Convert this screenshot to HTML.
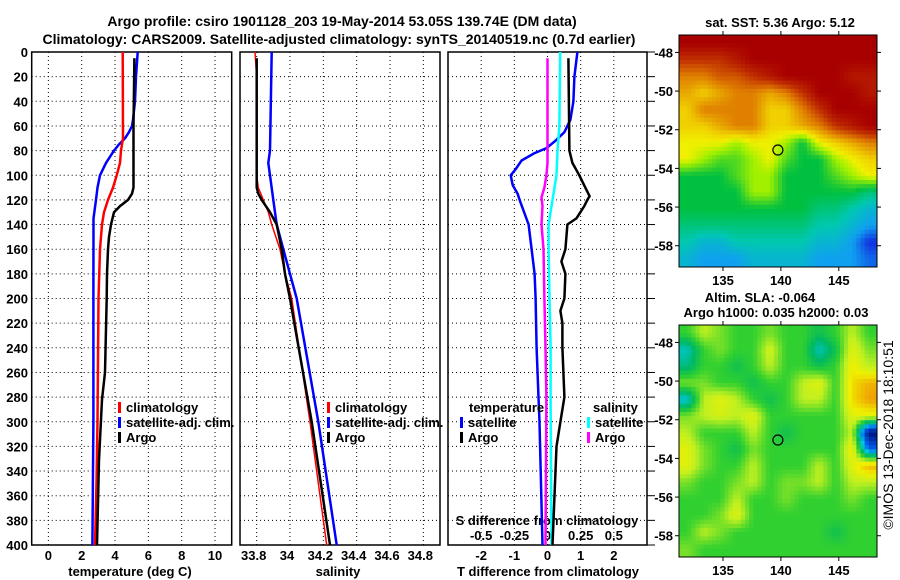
<!DOCTYPE html>
<html><head><meta charset="utf-8"><style>
html,body{margin:0;padding:0;background:#fff;}
svg{display:block;font-family:"Liberation Sans",Arial,sans-serif;}
text{font-weight:bold;font-size:13px;fill:#000;}
</style></head><body>
<svg id="chart" width="900" height="580" viewBox="0 0 900 580" xmlns="http://www.w3.org/2000/svg">
<text x="342" y="26" text-anchor="middle" style="font-size:14px">Argo profile: csiro 1901128_203 19-May-2014 53.05S 139.74E (DM data)</text>
<text x="339" y="44" text-anchor="middle" style="font-size:14px">Climatology: CARS2009. Satellite-adjusted climatology: synTS_20140519.nc (0.7d earlier)</text>
<g id="g"></g>
<text transform="translate(893,435) rotate(-90)" text-anchor="middle" style="font-weight:normal;font-size:14px">©IMOS 13-Dec-2018 18:10:51</text>
</svg>
<script>
// ---- profile data ----
const redTDepth=[0,70,80,90,100,110,120,130,140,160,200,250,300,350,400];
const redT=[4.46,4.48,4.36,4.30,4.10,3.88,3.58,3.34,3.22,3.10,3.01,2.98,2.95,2.89,2.80];
const blueTDepth=[0,20,40,55,60,65,70,75,80,90,100,110,120,135,200,300,400];
const blueT=[5.36,5.26,5.20,5.08,5.02,4.84,4.60,4.24,3.94,3.46,3.10,2.95,2.86,2.71,2.70,2.70,2.64];
const argoTDepth=[5,60,110,115,120,125,130,140,150,160,180,200,260,282,331,400];
const argoT=[5.16,5.11,5.11,5.02,4.78,4.30,3.94,3.76,3.64,3.58,3.52,3.50,3.40,3.22,3.04,2.92];
const redSDepth=[0,20,100,110,120,130,140,160,180,200,300,400];
const redS=[33.79,33.80,33.80,33.81,33.84,33.87,33.89,33.94,33.97,34.01,34.12,34.22];
const blueSDepth=[0,80,90,100,120,140,160,180,200,300,400];
const blueS=[33.89,33.88,33.87,33.88,33.90,33.92,33.96,34.00,34.04,34.17,34.28];
const argoSDepth=[5,110,115,120,130,140,160,180,200,300,400];
const argoS=[33.80,33.80,33.81,33.83,33.88,33.92,33.95,33.97,34.00,34.13,34.24];
const satDTDepth=[0,20,40,55,65,72,78,82,88,95,100,108,115,120,140,160,180,200,240,280,300,400];
const satDT=[0.90,0.81,0.78,0.69,0.51,0.24,-0.03,-0.39,-0.78,-0.96,-1.11,-1.05,-0.90,-0.84,-0.57,-0.48,-0.39,-0.36,-0.33,-0.27,-0.24,-0.15];
const argoDTDepth=[5,80,90,100,110,117,120,125,135,140,160,170,180,200,210,220,240,260,280,300,320,340,360,400];
const argoDT=[0.63,0.66,0.75,0.96,1.14,1.27,1.20,1.11,0.87,0.60,0.54,0.42,0.54,0.51,0.39,0.45,0.45,0.48,0.51,0.39,0.27,0.24,0.21,0.15];
const argoDSDepth=[5,90,100,110,118,125,140,160,200,240,280,400];
const argoDS=[0,0,-0.008,-0.023,-0.045,-0.038,-0.045,-0.03,-0.023,-0.015,-0.008,-0.015];
const satDSDepth=[0,60,80,100,110,120,140,160,200,240,280,400];
const satDS=[0.096,0.09,0.075,0.068,0.053,0.038,0.008,0.008,0.015,0.023,0.023,0.03];
const depthTicks=[0,20,40,60,80,100,120,140,160,180,200,220,240,260,280,300,320,340,360,380,400];
const tTicks=[0,2,4,6,8,10];
const sTicks=[33.8,34,34.2,34.4,34.6,34.8];
const dTTicks=[-2,-1,0,1,2];
const dSTicks=[-0.5,-0.25,0,0.25,0.5];
const dSLabels=["-0.5","-0.25","0","0.25","0.5"];
// ---- map data (12 cols x 14 rows) ----
const sstGrid=[
[10,10,10,10,10,10,10,10,10,10,10,10],
[9,9,9,9.5,10,10,10,10,10,10,10,10],
[8,8,8.5,8.5,9,9.5,10,10,10,10,9.5,9.5],
[7.5,7,7.5,8,8,7.5,8,9,10,10,10,9.5],
[7,8,8,8,8,7,7,8,9,10,10,10],
[7,7,7.5,8,8,7,7,7.5,8,9,9.5,10],
[6.5,6.5,6.5,6,6.5,6.5,6,5,6.5,7,7.5,8],
[6.5,6,5.5,5.5,6,6.5,5.5,5,5,6,6.5,7],
[5,5,5,5.5,6,6,5,5,5,5.5,6,6.5],
[5,5,5,5,6,6,5,5,5,5,5,4.5],
[5,5,5,5,5,5,5,5,4.5,4.5,4,3.5],
[4.5,4.5,4.5,4.5,4.5,4.5,4.5,4.5,4,4,3.5,3],
[4,3.5,3.5,4,4,4,4,4,3.5,3.5,3,2],
[3.5,3,3,3,3.5,3.5,3.5,3.5,3,3,3,2.5]];
const slaGrid=[
[0,.2,.1,0,0,.1,0,0,-.1,0,.2,0],
[-.3,0,.1,0,0,.25,0,0,-.3,-.1,.3,.1],
[-.2,0,0,-.1,0,.2,0,0,-.1,0,.35,.2],
[.1,.1,0,0,-.1,0,0,.2,.3,0,.4,.5],
[-.35,.2,.3,.2,0,-.1,0,.2,.2,0,.4,.55],
[.1,.2,.25,.2,.3,0,0,0,0,0,.3,.3],
[.2,0,0,0,.2,0,-.1,0,0,0,.2,-1],
[.3,.1,0,-.1,.1,0,0,0,0,0,.35,-.6],
[.3,.1,0,0,.2,0,0,0,.2,0,.3,.5],
[.1,0,0,.1,.2,0,.1,.1,.2,0,.2,.2],
[0,0,0,.2,0,0,.1,0,0,0,.1,0],
[0,0,.1,.3,0,0,0,0,0,0,0,0],
[0,.2,.1,0,0,0,0,0,0,-.1,0,0],
[.1,0,0,0,0,0,0,0,0,0,0,0]];
const lonTicks=[135,140,145];
const latTicks=[-48,-50,-52,-54,-56,-58];
const argoLon=139.74, argoLat=-53.05;

const NS="http://www.w3.org/2000/svg";
const G=document.getElementById('g');
function mk(tag,attrs,parent){const e=document.createElementNS(NS,tag);for(const k in attrs)e.setAttribute(k,attrs[k]);(parent||G).appendChild(e);return e;}
const yTop=52,yBot=545;
function yD(d){return yTop+(d/400)*(yBot-yTop);}
function lin(d0,d1,p0,p1){return v=>p0+(v-d0)/(d1-d0)*(p1-p0);}
const xT=lin(-1,11,31.7,231.7);
const xS=lin(33.7,34.9,240,440);
const xDT=lin(-3,3,448,647);
const xDS=lin(-0.75,0.75,448,647);

function panel(name,x0,x1,gridXs){
  const g=mk('g',{});
  
  
  gridXs.forEach(x=>{const l=mk('line',{x1:x,x2:x,y1:yTop,y2:yBot,stroke:'#000','stroke-dasharray':'1,3'},g);});
  depthTicks.forEach(d=>{if(d===0||d===400)return;const l=mk('line',{x1:x0,x2:x1,y1:yD(d),y2:yD(d),stroke:'#000','stroke-dasharray':'1,3'},g);});
  const r=mk('rect',{x:x0,y:yTop,width:x1-x0,height:yBot-yTop,fill:'none',stroke:'#000','stroke-width':1.5},g);
  
  return g;
}
function line(depths,vals,xf,color,w,name){
  const pts=depths.map((d,i)=>xf(vals[i]).toFixed(1)+','+yD(d).toFixed(1)).join(' ');
  const p=mk('polyline',{points:pts,fill:'none',stroke:color,'stroke-width':w,'stroke-linejoin':'round'});
  
  
}
function txt(x,y,s,anchor,name,extra){
  const t=mk('text',Object.assign({x:x,y:y,'text-anchor':anchor||'start'},extra||{}));
  t.textContent=s;
  
  
  return t;
}
function legend(x,y,color,label,name){
  const r=mk('rect',{x:x,y:y-10,width:3,height:11,fill:color});
  
  
  txt(x+8,y,label,'start',name);
}

// Panel 1 temperature
panel('temperature-panel',31.7,231.7,tTicks.map(xT));
depthTicks.forEach(d=>txt(28,yD(d)+5,String(d),'end','depth-tick-label'));
tTicks.forEach(v=>txt(xT(v),560,String(v),'middle','temperature-tick-label'));
txt(130,576,'temperature (deg C)','middle','temperature-axis-title');
line(blueTDepth,blueT,xT,'#0000ff',2.5,'sat-adj-clim-temperature-line');
line(redTDepth,redT,xT,'#ff0000',2.5,'clim-temperature-line');
line(argoTDepth,argoT,xT,'#000',2.5,'argo-temperature-line');
legend(118,412,'#ff0000','climatology','legend-climatology');
legend(118,427,'#0000ff','satellite-adj. clim.','legend-satellite-adj');
legend(118,442,'#000','Argo','legend-argo');

// Panel 2 salinity
panel('salinity-panel',240,440,sTicks.map(xS));
sTicks.forEach(v=>txt(xS(v)-3,560,String(v),'middle','salinity-tick-label'));
txt(338,576,'salinity','middle','salinity-axis-title');
line(redSDepth,redS,xS,'#ff0000',1.5,'clim-salinity-line');
line(blueSDepth,blueS,xS,'#0000ff',2.5,'sat-adj-clim-salinity-line');
line(argoSDepth,argoS,xS,'#000',2.5,'argo-salinity-line');
legend(327,412,'#ff0000','climatology','legend-climatology-s');
legend(327,427,'#0000ff','satellite-adj. clim.','legend-satellite-adj-s');
legend(327,442,'#000','Argo','legend-argo-s');

// Panel 3 differences
panel('difference-panel',448,647,dTTicks.map(xDT));
depthTicks.forEach(d=>{const l=mk('line',{x1:647,x2:655,y1:yD(d),y2:yD(d),stroke:'#000'});});
dTTicks.forEach(v=>txt(xDT(v),560,String(v),'middle','t-diff-tick-label'));
txt(548,576,'T difference from climatology','middle','t-diff-axis-title');
txt(547,525,'S difference from climatology','middle','s-diff-axis-title');
dSTicks.forEach((v,i)=>txt(xDS(v),540,dSLabels[i],'middle','s-diff-tick-label'));
line(satDTDepth,satDT,xDT,'#0000ff',2.5,'sat-t-diff-line');
line(argoDSDepth,argoDS,xDS,'#ff00ff',2.5,'argo-s-diff-line');
line(satDSDepth,satDS,xDS,'#00ffff',2.5,'sat-s-diff-line');
line(argoDTDepth,argoDT,xDT,'#000',2.5,'argo-t-diff-line');
txt(469,412,'temperature','start','legend-temperature-heading');
legend(460,427,'#0000ff','satellite','legend-t-satellite');
legend(460,442,'#000','Argo','legend-t-argo');
txt(593,412,'salinity','start','legend-salinity-heading');
legend(587,427,'#00ffff','satellite','legend-s-satellite');
legend(587,442,'#ff00ff','Argo','legend-s-argo');

// Maps
function interp(stops,v){
  if(v<=stops[0][0])return 'rgb('+stops[0][1].join(',')+')';
  for(let i=1;i<stops.length;i++){if(v<=stops[i][0]){const a=stops[i-1],b=stops[i];const t=(v-a[0])/(b[0]-a[0]);
    const c=a[1].map((x,k)=>Math.round(x+(b[1][k]-x)*t));return 'rgb('+c.join(',')+')';}}
  return 'rgb('+stops[stops.length-1][1].join(',')+')';
}
function sample(grid,fx,fy){
  const rows=grid.length,cols=grid[0].length;
  let gx=fx*cols-0.5,gy=fy*rows-0.5;
  gx=Math.max(0,Math.min(cols-1,gx));gy=Math.max(0,Math.min(rows-1,gy));
  const x0=Math.floor(gx),y0=Math.floor(gy),x1=Math.min(cols-1,x0+1),y1=Math.min(rows-1,y0+1);
  const tx=gx-x0,ty=gy-y0;
  const a=grid[y0][x0]*(1-tx)+grid[y0][x1]*tx,b=grid[y1][x0]*(1-tx)+grid[y1][x1]*tx;
  return a*(1-ty)+b*ty;
}
const sstStops=[[2,[16,48,224]],[3,[16,160,240]],[4,[0,200,176]],[5,[0,192,64]],[6,[160,240,0]],[6.5,[240,240,0]],[7,[240,208,0]],[8,[224,128,0]],[9,[192,48,0]],[10,[168,0,0]]];
const slaStops=[[-1,[0,16,128]],[-0.6,[0,96,240]],[-0.35,[0,200,224]],[-0.15,[0,184,96]],[0,[48,208,48]],[0.2,[192,240,32]],[0.35,[240,240,0]],[0.55,[240,160,0]]];
const mX0=679,mX1=877,lon0=131.2,lon1=148.3,lat0=-47.1,lat1=-59.1;
function drawMap(name,grid,stops,y0,y1){
  const g=mk('g',{});
  
  
  const nc=grid[0].length*4,nr=grid.length*4,cw=(mX1-mX0)/nc,ch=(y1-y0)/nr;
  for(let r=0;r<nr;r++)for(let c=0;c<nc;c++){
    const v=sample(grid,(c+0.5)/nc,(r+0.5)/nr);
    const cell=mk('rect',{x:(mX0+c*cw).toFixed(2),y:(y0+r*ch).toFixed(2),width:(cw+0.5).toFixed(2),height:(ch+0.5).toFixed(2),fill:interp(stops,v)},g);
    
    
  }
  const xL=lin(lon0,lon1,mX0,mX1),yL=lin(lat0,lat1,y0,y1);
  const fr=mk('rect',{x:mX0,y:y0,width:mX1-mX0,height:y1-y0,fill:'none',stroke:'#000','stroke-width':1},g);
  
  lonTicks.forEach(l=>{mk('line',{x1:xL(l),x2:xL(l),y1:y0-4,y2:y0,stroke:'#000'},g);mk('line',{x1:xL(l),x2:xL(l),y1:y1,y2:y1+4,stroke:'#000'},g);
    const t=mk('text',{x:xL(l),y:y1+18,'text-anchor':'middle'},g);t.textContent=String(l);});
  latTicks.forEach(l=>{mk('line',{x1:mX0-4,x2:mX0,y1:yL(l),y2:yL(l),stroke:'#000'},g);mk('line',{x1:mX1,x2:mX1+4,y1:yL(l),y2:yL(l),stroke:'#000'},g);
    const t=mk('text',{x:mX0-6,y:yL(l)+5,'text-anchor':'end'},g);t.textContent=String(l);});
  const m=mk('circle',{cx:xL(argoLon),cy:yL(argoLat),r:5,fill:'none',stroke:'#000','stroke-width':1.2},g);
  
  return g;
}
drawMap('sst-map',sstGrid,sstStops,35,267);
txt(780,27,'sat. SST: 5.36 Argo: 5.12','middle','sst-map-title');
drawMap('sla-map',slaGrid,slaStops,325,557);
txt(760,302,'Altim. SLA: -0.064','middle','sla-map-title');
txt(776,317,'Argo h1000: 0.035 h2000: 0.03','middle','sla-map-subtitle');
</script>
</body></html>
